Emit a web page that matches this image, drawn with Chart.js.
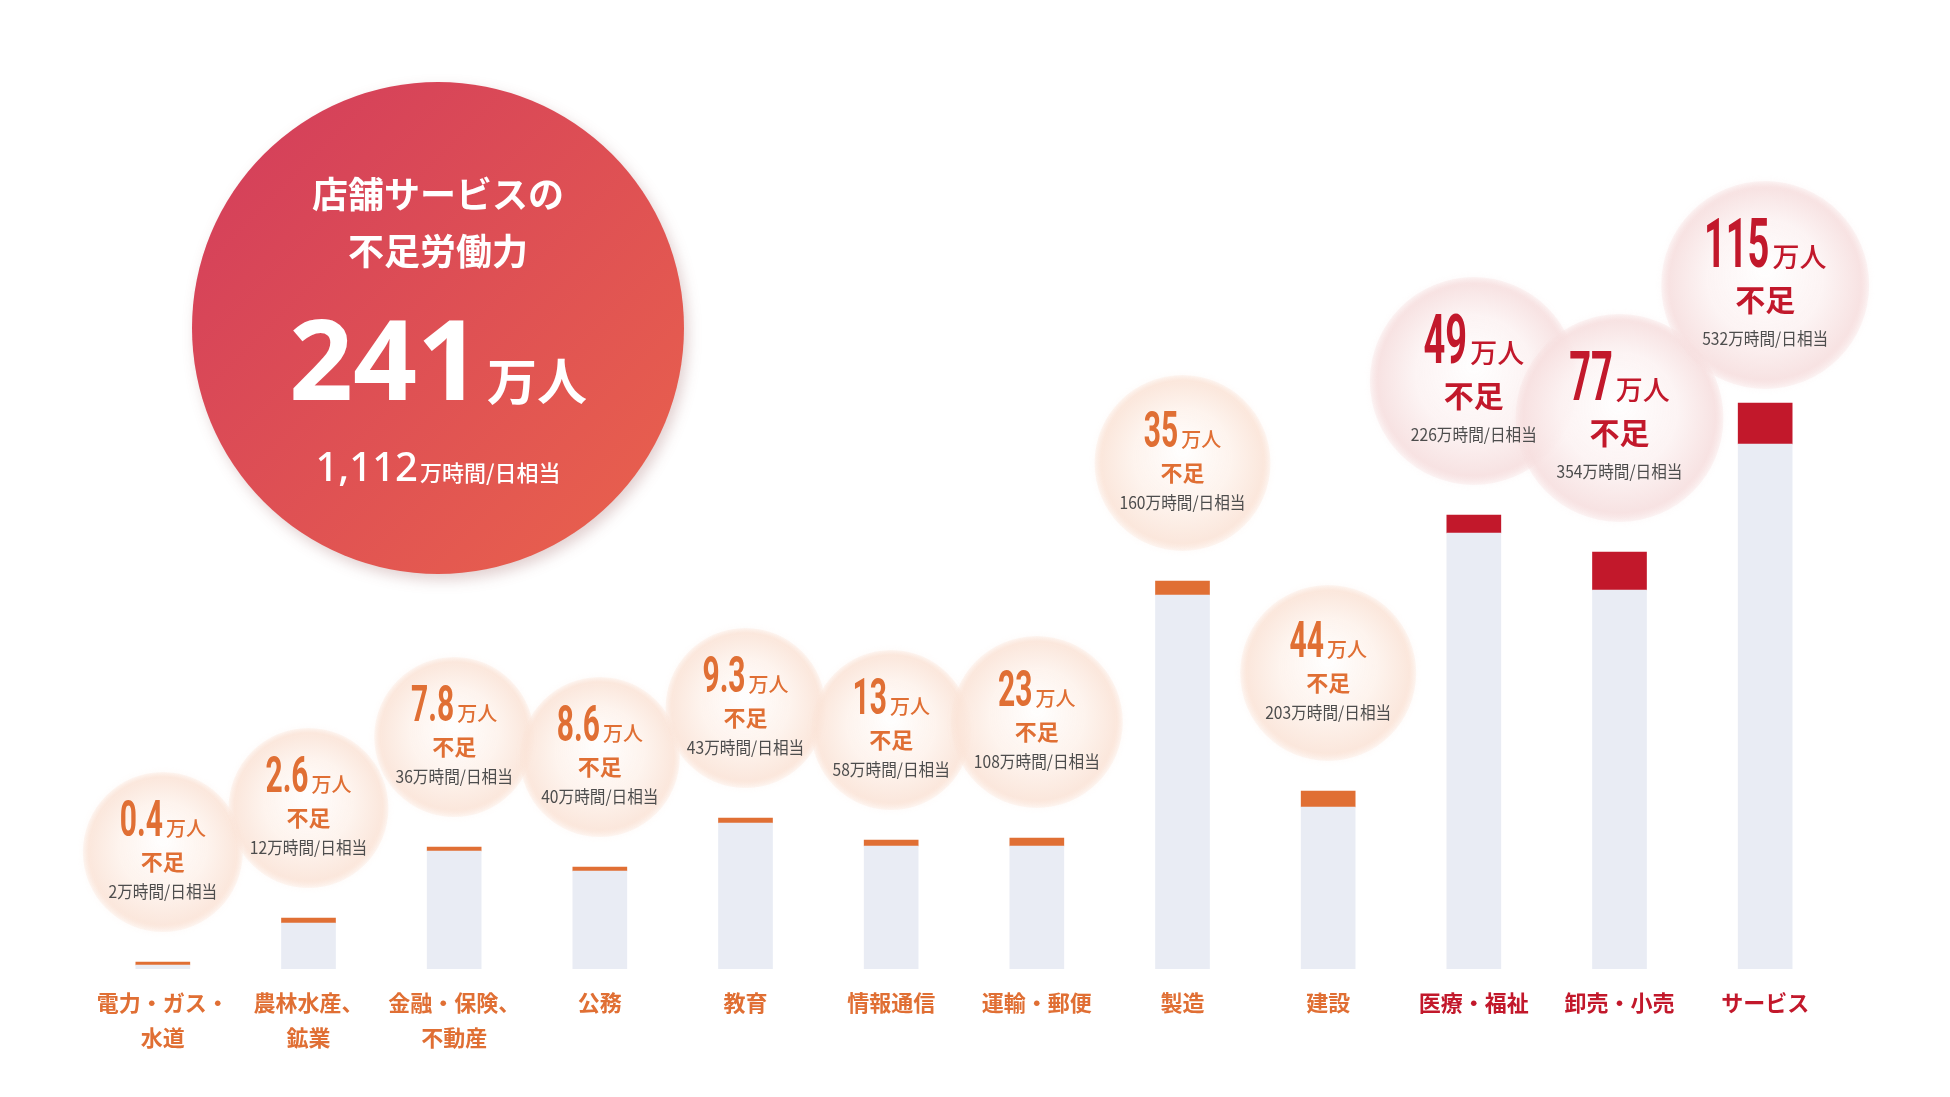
<!DOCTYPE html>
<html lang="ja">
<head>
<meta charset="utf-8">
<script src="https://cdn.jsdelivr.net/npm/chart.js@4.4.1/dist/chart.umd.min.js"></script>
<style>
  html, body { margin: 0; padding: 0; background: #fff; }
  #wrap { width: 1950px; height: 1097px; position: relative; }
</style>
</head>
<body>
<div id="wrap"><canvas id="chart"></canvas></div>
<script>
/* ===== データ ===== */
const CATEGORIES = [
  ['電力・ガス・', '水道'], ['農林水産、', '鉱業'], ['金融・保険、', '不動産'],
  '公務', '教育', '情報通信', '運輸・郵便', '製造', '建設',
  '医療・福祉', '卸売・小売', 'サービス'
];
// 棒の高さ（図から読み取った相対値）: 充足分 + 不足分
const FILLED = [4, 46, 118, 98, 146, 123, 123, 374, 162, 436, 379, 525];
const SHORTFALL = [3, 5, 4, 4, 5, 6, 8, 14, 16, 18, 38, 41];
// 吹き出しの数値
const SHORT_PEOPLE = ['0.4', '2.6', '7.8', '8.6', '9.3', '13', '23', '35', '44', '49', '77', '115'];
const SHORT_HOURS = [2, 12, 36, 40, 43, 58, 108, 160, 203, 226, 354, 532];
const TOTAL_TITLE = ['店舗サービスの', '不足労働力'];
const TOTAL_PEOPLE = '241';
const TOTAL_HOURS = '1,112';

/* ===== 色 ===== */
const ORANGE = '#e06f34';
const RED = '#c2182b';
const BAR_BG = '#e9ecf4';
const JP = "'Noto Sans CJK JP', 'Noto Sans', sans-serif";
const NUM = "Roboto, 'Noto Sans', sans-serif";

const isHot = i => parseFloat(SHORT_PEOPLE[i]) >= 45;
const accent = i => isHot(i) ? RED : ORANGE;

// 横に詰めた文字（コンデンス書体の代わり）
function squeeze(ctx, text, x, y, sx) {
  ctx.save();
  ctx.translate(x, y);
  ctx.scale(sx, 1);
  ctx.fillText(text, 0, 0);
  ctx.restore();
}

function drawBubble(ctx, x, y, r, hot) {
  const rim = hot ? '247,224,224' : '251,229,217';
  const mid = hot ? '253,245,245' : '254,244,238';
  const g = ctx.createRadialGradient(x, y - r * 0.15, r * 0.05, x, y, r);
  g.addColorStop(0, 'rgba(255,255,255,0.95)');
  g.addColorStop(0.55, `rgba(${mid},0.8)`);
  g.addColorStop(0.92, `rgba(${rim},0.8)`);
  g.addColorStop(1, `rgba(${rim},0.3)`);
  ctx.save();
  ctx.shadowColor = `rgba(${rim},0.7)`;
  ctx.shadowBlur = 6;
  ctx.beginPath();
  ctx.arc(x, y, r, 0, Math.PI * 2);
  ctx.fillStyle = g;
  ctx.fill();
  ctx.restore();
}

function drawBubbleText(ctx, i, x, cy) {
  const hot = isHot(i);
  const col = accent(i);
  const numSize = hot ? 68 : 50;
  const unitSize = hot ? 27 : 20;
  const sx = hot ? 0.56 : 0.6;
  ctx.save();
  ctx.textBaseline = 'alphabetic';
  ctx.textAlign = 'left';
  ctx.fillStyle = col;

  ctx.font = `bold ${numSize}px ${NUM}`;
  const nw = ctx.measureText(SHORT_PEOPLE[i]).width * sx;
  ctx.font = `500 ${unitSize}px ${JP}`;
  const uw = ctx.measureText('万人').width;
  const gap = 3;
  const start = x - (nw + gap + uw) / 2;
  const nb = cy + (hot ? -18 : -16);
  ctx.font = `bold ${numSize}px ${NUM}`;
  squeeze(ctx, SHORT_PEOPLE[i], start, nb, sx);
  ctx.font = `500 ${unitSize}px ${JP}`;
  ctx.fillText('万人', start + nw + gap, nb);

  ctx.textAlign = 'center';
  ctx.font = `bold ${hot ? 30 : 22}px ${JP}`;
  ctx.fillText('不足', x, cy + (hot ? 26 : 18));

  ctx.fillStyle = '#4d4d4d';
  ctx.font = `17px ${JP}`;
  const sub = SHORT_HOURS[i] + '万時間/日相当';
  const sw = ctx.measureText(sub).width * 0.92;
  ctx.textAlign = 'left';
  squeeze(ctx, sub, x - sw / 2, cy + (hot ? 60 : 46), 0.92);
  ctx.restore();
}

function drawTotalCircle(ctx) {
  const cx = 438, cy = 328, r = 246;
  const g = ctx.createLinearGradient(cx - r, cy - r, cx + r, cy + r);
  g.addColorStop(0, '#d23c5c');
  g.addColorStop(1, '#ea634c');
  ctx.save();
  ctx.shadowColor = 'rgba(120, 40, 40, 0.22)';
  ctx.shadowBlur = 14;
  ctx.shadowOffsetX = 4;
  ctx.shadowOffsetY = 6;
  ctx.beginPath();
  ctx.arc(cx, cy, r, 0, Math.PI * 2);
  ctx.fillStyle = g;
  ctx.fill();
  ctx.restore();

  ctx.save();
  ctx.fillStyle = '#fff';
  ctx.textAlign = 'center';
  ctx.textBaseline = 'middle';
  ctx.font = `bold 36px ${JP}`;
  ctx.fillText(TOTAL_TITLE[0], cx, 194);
  ctx.fillText(TOTAL_TITLE[1], cx, 251);

  ctx.textBaseline = 'alphabetic';
  ctx.textAlign = 'left';
  ctx.font = `bold 112px 'Noto Sans', sans-serif`;
  const w1 = ctx.measureText(TOTAL_PEOPLE).width;
  ctx.font = `bold 50px ${JP}`;
  const w2 = ctx.measureText('万人').width;
  let x0 = cx - (w1 + 6 + w2) / 2;
  ctx.font = `bold 112px 'Noto Sans', sans-serif`;
  ctx.fillText(TOTAL_PEOPLE, x0, 400);
  ctx.font = `bold 50px ${JP}`;
  ctx.fillText('万人', x0 + w1 + 6, 400);

  ctx.font = `500 40px 'Noto Sans', sans-serif`;
  const w3 = ctx.measureText(TOTAL_HOURS).width;
  ctx.font = `500 22px ${JP}`;
  const w4 = ctx.measureText('万時間/日相当').width;
  x0 = cx - (w3 + 2 + w4) / 2;
  ctx.font = `500 40px 'Noto Sans', sans-serif`;
  ctx.fillText(TOTAL_HOURS, x0, 481);
  ctx.font = `500 22px ${JP}`;
  ctx.fillText('万時間/日相当', x0 + w3 + 2, 481);
  ctx.restore();
}

/* ===== 吹き出しプラグイン ===== */
const bubblePlugin = {
  id: 'bubbles',
  beforeDatasetsDraw(chart) {
    const { ctx, chartArea, scales: { x, y } } = chart;
    drawTotalCircle(ctx);
    const centers = CATEGORIES.map((_, i) => {
      const v = parseFloat(SHORT_PEOPLE[i]);
      const r = v >= 45 ? 104 : v >= 30 ? 88 : v >= 20 ? 86 : 80;
      const top = y.getPixelForValue(FILLED[i] + SHORTFALL[i]);
      const cy = Math.max(top - r - 30, chartArea.top - 84);
      return { x: x.getPixelForValue(i), cy, r };
    });
    centers.forEach((c, i) => drawBubble(ctx, c.x, c.cy, c.r, isHot(i)));
    centers.forEach((c, i) => drawBubbleText(ctx, i, c.x, c.cy));
  }
};

/* ===== グラフ ===== */
new Chart(document.getElementById('chart'), {
  type: 'bar',
  data: {
    labels: CATEGORIES,
    datasets: [
      {
        data: FILLED,
        backgroundColor: BAR_BG,
        barThickness: 54,
        borderWidth: 0,
      },
      {
        data: SHORTFALL,
        backgroundColor: CATEGORIES.map((_, i) => accent(i)),
        barThickness: 54,
        borderWidth: 0,
      }
    ]
  },
  options: {
    responsive: true,
    maintainAspectRatio: false,
    devicePixelRatio: 1,
    animation: false,
    layout: { padding: { top: 369, left: 90, right: 112, bottom: 0 } },
    plugins: {
      legend: { display: false },
      tooltip: { enabled: false },
    },
    scales: {
      x: {
        stacked: true,
        grid: { display: false, drawTicks: false },
        border: { display: false },
        ticks: {
          autoSkip: false,
          maxRotation: 0,
          padding: 16,
          color: ctx => accent(ctx.index),
          font: { family: JP, size: 22, weight: 'bold', lineHeight: 1.6 },
        },
        afterFit(scale) { scale.height = 128; },
      },
      y: {
        stacked: true,
        display: false,
        min: 0,
        max: 600,
      }
    }
  },
  plugins: [bubblePlugin]
});
</script>
</body>
</html>
